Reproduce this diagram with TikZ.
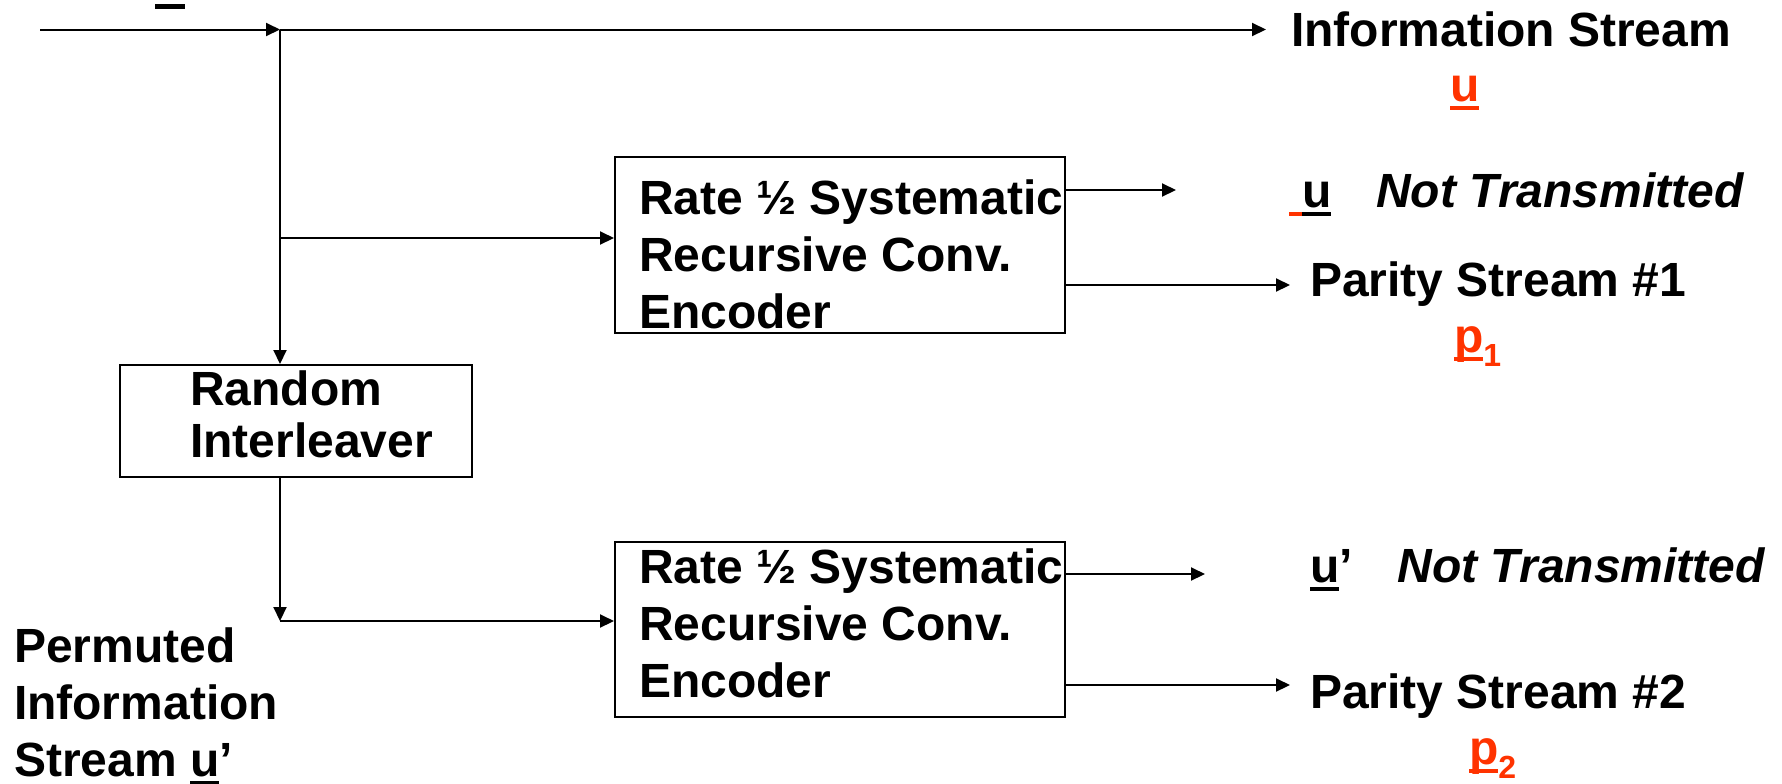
\documentclass[tikz,border=0pt]{standalone}
\usepackage{fontspec}
\setmainfont{Liberation Sans}
\usetikzlibrary{arrows.meta}

\definecolor{streamred}{RGB}{255,51,0}
\newcommand{\ulx}[1]{\setbox0=\hbox{#1}\rlap{\rule[-4.5pt]{\wd0}{2pt}}\box0}
\newcommand{\subx}[1]{\raisebox{-7pt}{\fontsize{16}{16}\selectfont\bfseries #1}}

\tikzset{every picture/.style={line width=1pt}}
\tikzset{
  blockbox/.style={draw, line width=1pt, inner sep=0pt},
  lbl/.style={anchor=base west, inner sep=0pt, font=\fontsize{24}{28.5}\selectfont\bfseries, align=left},
  flow/.style={-{Triangle[length=7pt,width=6.5pt]}, line width=1pt}
}

\begin{document}
\begin{tikzpicture}[x=0.5pt,y=0.5pt,yscale=-1,xscale=1]
	\useasboundingbox (0,0) rectangle (1782,783);

	%Shape: Rectangle [encoders and interleaver]
	\node [blockbox, minimum width=225pt, minimum height=88pt] (enc1) at (840,245) {};
	\node [blockbox, minimum width=225pt, minimum height=87.5pt] (enc2) at (840,629.5) {};
	\node [blockbox, minimum width=176pt, minimum height=56pt] (ilv) at (296,421) {};

	% Text Node (anchored on the baseline of the last line)
	\node [lbl] (enc1txt) at (638,328) {Rate ½ Systematic\\Recursive Conv.\\Encoder};
	% Text Node
	\node [lbl] (enc2txt) at (638,697) {Rate ½ Systematic\\Recursive Conv.\\Encoder};
	% Text Node
	\node [lbl, font=\fontsize{24}{26}\selectfont\bfseries] (ilvtxt) at (189,457) {Random\\Interleaver};
	% Text Node
	\node [lbl] (perm) at (13,776) {Permuted\\Information\\Stream \ulx{u}’};
	% Text Node
	\node [lbl] (info) at (1290,46) {Information Stream};
	% Text Node
	\node [lbl, text=streamred] (uinfo) at (1449,101) {\ulx{u}};
	% Text Node
	\node [lbl] (nt1) at (1288,207) {{\color{streamred}\rule[-4.5pt]{6.5pt}{2pt}}\ulx{u}\hspace{22.5pt}\textit{Not Transmitted}};
	% Text Node
	\node [lbl] (par1) at (1309,296) {Parity Stream \#1};
	% Text Node
	\node [lbl, text=streamred] (p1) at (1453,352) {\ulx{p}\subx{1}};
	% Text Node
	\node [lbl] (nt2) at (1309,582) {\ulx{u}’\hspace{22.5pt}\textit{Not Transmitted}};
	% Text Node
	\node [lbl] (par2) at (1309,708) {Parity Stream \#2};
	% Text Node
	\node [lbl, text=streamred] (p2) at (1468,764) {\ulx{p}\subx{2}};

	%Coordinates
	\coordinate (in) at (40,29.5);
	\coordinate (split) at (280,29.5);
	\coordinate (infoend) at (1266,29.5);
	\coordinate (tap1) at (280,238);
	\coordinate (corner) at (280,621);
	\coordinate (o1) at (1176,190);
	\coordinate (o2) at (1290,285);
	\coordinate (o3) at (1205,574);
	\coordinate (o4) at (1290,685);

	%Straight Lines
	\draw [flow] (in) -- (split);
	\draw [flow] (split) -- (infoend);
	\draw [flow] (split) -- (split |- ilv.north);
	\draw [flow] (tap1) -- (tap1 -| enc1.west);
	\draw [flow] (corner |- ilv.south) -- (corner);
	\draw [flow] (corner) -- (corner -| enc2.west);
	\draw [flow] (o1 -| enc1.east) -- (o1);
	\draw [flow] (o2 -| enc1.east) -- (o2);
	\draw [flow] (o3 -| enc2.east) -- (o3);
	\draw [flow] (o4 -| enc2.east) -- (o4);

	%Shape: Rectangle [stray bar]
	\fill (155,4) rectangle (185,9);
\end{tikzpicture}
\end{document}
